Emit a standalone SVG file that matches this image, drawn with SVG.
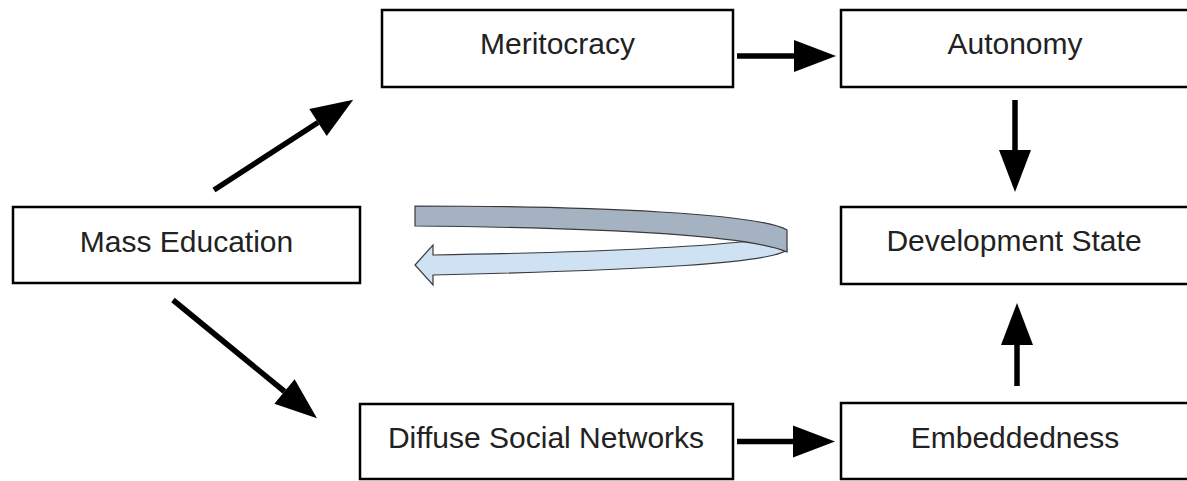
<svg xmlns="http://www.w3.org/2000/svg" width="1187" height="481" viewBox="0 0 1187 481">
<style>
.box{fill:#fff;stroke:#000;stroke-width:2.5}
.lbl{font-family:"Liberation Sans",Arial,sans-serif;font-size:30px;fill:#222;text-anchor:middle}
.conn{stroke:#000;stroke-width:5.5;fill:none;marker-end:url(#head)}
</style>
<defs>
<marker id="head" markerUnits="userSpaceOnUse" markerWidth="44" markerHeight="32" refX="0" refY="16" orient="auto" overflow="visible">
<path d="M0,0 L42,16 L0,32 Z" fill="#000"/>
</marker>
</defs>
<rect width="1187" height="481" fill="#fff"/>
<g id="connectors">
<line class="conn" x1="737" y1="56" x2="794" y2="56"/>
<line class="conn" x1="1015" y1="100" x2="1015" y2="150"/>
<line class="conn" x1="1017" y1="386" x2="1017" y2="345"/>
<line class="conn" x1="737" y1="441.5" x2="793" y2="441.5"/>
<line class="conn" x1="214" y1="190" x2="318" y2="122.5"/>
<line class="conn" x1="173" y1="300" x2="284.5" y2="391.5"/>
<g id="cycle-arrow" stroke="#3a3a3a" stroke-width="1.2" stroke-linejoin="miter">
<path d="M433 255 C560 253 690 248 760 240 L787 250 C770 263 650 270 433 275 L433 285 L415 265 L433 245 Z" fill="#cfe2f3"/>
<path d="M415 206 C600 206 760 214 787 230 L787 252 C750 236 620 228 415 226 Z" fill="#a4b2c2"/>
</g>
</g>
<g id="meritocracy"><rect class="box" x="382" y="10" width="351" height="77"/><text class="lbl" x="557.5" y="54">Meritocracy</text></g>
<g id="autonomy"><rect class="box" x="841" y="10" width="350" height="77"/><text class="lbl" x="1015" y="54">Autonomy</text></g>
<g id="mass-education"><rect class="box" x="13" y="207" width="347" height="76"/><text class="lbl" x="186.5" y="252">Mass Education</text></g>
<g id="development-state"><rect class="box" x="841" y="207" width="350" height="77"/><text class="lbl" x="1014" y="251">Development State</text></g>
<g id="diffuse-social-networks"><rect class="box" x="360" y="404" width="373" height="75"/><text class="lbl" x="546" y="448">Diffuse Social Networks</text></g>
<g id="embeddedness"><rect class="box" x="841" y="403" width="350" height="76"/><text class="lbl" x="1015" y="448">Embeddedness</text></g>
</svg>
